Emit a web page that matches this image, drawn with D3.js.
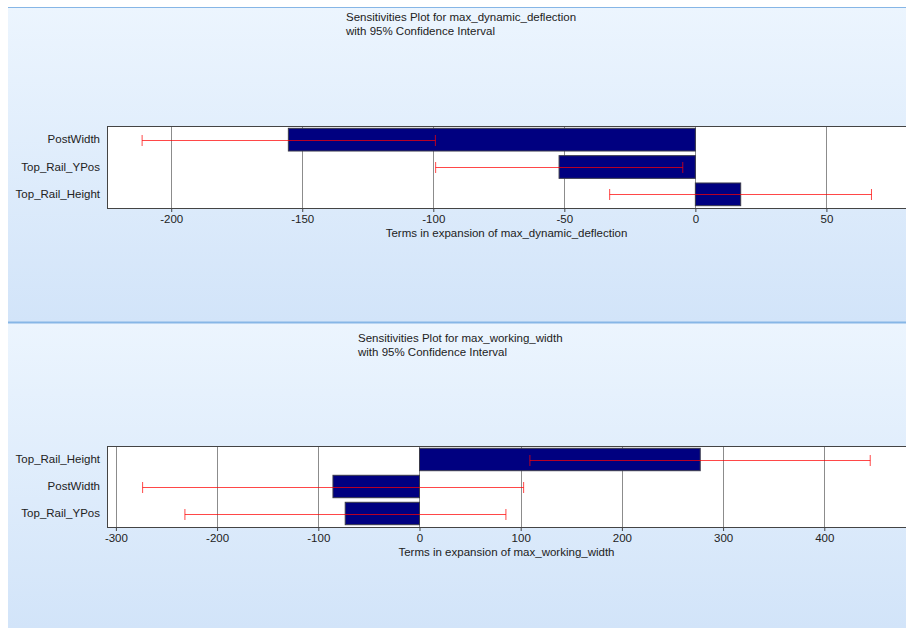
<!DOCTYPE html>
<html><head><meta charset="utf-8">
<script src="https://cdn.jsdelivr.net/npm/d3@7"></script>
<style>
html,body{margin:0;padding:0;background:#fff;}
svg{display:block;font-family:"Liberation Sans",Arial,sans-serif;}
</style></head>
<body>
<svg id="chart" width="906" height="628"></svg>
<script>
// ---- Data ----
const titles1 = ["Sensitivities Plot for max_dynamic_deflection", "with 95% Confidence Interval"];
const xLabel1 = "Terms in expansion of max_dynamic_deflection";
const cats1 = ["PostWidth", "Top_Rail_YPos", "Top_Rail_Height"];
const vals1 = [-155.3, -52.0, 17.3];
const lo1 = [-211.1, -99.1, -32.7];
const hi1 = [-99.2, -4.8, 67.2];
const ticks1 = [-200, -150, -100, -50, 0, 50];
const domain1 = [-224.5, 81.9];

const titles2 = ["Sensitivities Plot for max_working_width", "with 95% Confidence Interval"];
const xLabel2 = "Terms in expansion of max_working_width";
const cats2 = ["Top_Rail_Height", "PostWidth", "Top_Rail_YPos"];
const vals2 = [277.4, -85.5, -73.4];
const lo2 = [109.1, -273.6, -231.8];
const hi2 = [445.4, 102.9, 85.4];
const ticks2 = [-300, -200, -100, 0, 100, 200, 300, 400];
const domain2 = [-308.8, 484.7];

const FS = 11.5;
const svg = d3.select("#chart");
const defs = svg.append("defs");
const grad = defs.append("linearGradient").attr("id","bg").attr("x1",0).attr("y1",0).attr("x2",0).attr("y2",1);
grad.append("stop").attr("offset","0%").attr("stop-color","#ecf5fe");
grad.append("stop").attr("offset","100%").attr("stop-color","#d2e4f9");

function panel(cfg) {
  const g = svg.append("g");
  g.append("rect").attr("x", 8).attr("y", cfg.py).attr("width", 898).attr("height", cfg.ph).attr("fill", "url(#bg)");
  g.append("line").attr("x1", 8).attr("x2", 906).attr("y1", cfg.py + 0.5).attr("y2", cfg.py + 0.5)
    .attr("stroke", "#86b6e6").attr("stroke-width", cfg.lineW);

  cfg.titles.forEach((t, i) => {
    g.append("text").attr("x", cfg.tx).attr("y", cfg.ty + i * 14.5).attr("font-size", FS).attr("fill", "#222").text(t);
  });

  const left = 107, right = 910, top = cfg.top, bottom = cfg.bottom;
  const x = d3.scaleLinear().domain(cfg.domain).range([left, right]);
  const y = d3.scaleBand().domain(cfg.cats).range([top, bottom]).paddingInner(0.17).paddingOuter(0.085);

  g.append("rect").attr("x", left).attr("y", top).attr("width", right - left).attr("height", bottom - top).attr("fill", "#fff");

  g.append("g").selectAll("line").data(cfg.ticks).join("line")
    .attr("x1", d => Math.round(x(d)) + 0.5).attr("x2", d => Math.round(x(d)) + 0.5)
    .attr("y1", top).attr("y2", bottom)
    .attr("stroke", "#8c8c8c").attr("stroke-width", 1);

  g.append("g").selectAll("rect").data(cfg.vals).join("rect")
    .attr("x", d => x(Math.min(0, d)))
    .attr("width", d => Math.abs(x(d) - x(0)))
    .attr("y", (d, i) => y(cfg.cats[i]))
    .attr("height", y.bandwidth())
    .attr("fill", "#000080").attr("stroke", "#3a3a4a").attr("stroke-width", 1);

  const eb = g.append("g").attr("stroke", "#ff0000").attr("stroke-opacity", 0.72).attr("stroke-width", 1);
  cfg.cats.forEach((c, i) => {
    const cy = Math.round(y(c) + y.bandwidth() / 2) + 0.5;
    eb.append("line").attr("x1", x(cfg.lo[i])).attr("x2", x(cfg.hi[i])).attr("y1", cy).attr("y2", cy);
    [cfg.lo[i], cfg.hi[i]].forEach(v => {
      eb.append("line").attr("x1", x(v)).attr("x2", x(v)).attr("y1", cy - 5.5).attr("y2", cy + 5.5);
    });
  });

  g.append("rect").attr("x", left + 0.5).attr("y", top + 0.5).attr("width", right - left).attr("height", bottom - top)
    .attr("fill", "none").attr("stroke", "#444").attr("stroke-width", 1);

  const ax = g.append("g").attr("transform", `translate(0,${bottom})`)
    .call(d3.axisBottom(x).tickValues(cfg.ticks).tickSize(4).tickPadding(3).tickFormat(d => String(d)));
  ax.select(".domain").remove();
  ax.selectAll(".tick line").attr("stroke", "#444");
  ax.selectAll(".tick text").attr("font-size", FS).attr("fill", "#222")
    .attr("font-family", "'Liberation Sans',Arial,sans-serif");

  const ay = g.append("g").attr("transform", `translate(${left},0)`)
    .call(d3.axisLeft(y).tickSize(0).tickPadding(7));
  ay.select(".domain").remove();
  ay.selectAll(".tick text").attr("font-size", FS).attr("fill", "#222")
    .attr("font-family", "'Liberation Sans',Arial,sans-serif");

  g.append("text").attr("x", (left + 906) / 2).attr("y", bottom + 29).attr("text-anchor", "middle")
    .attr("font-size", FS).attr("fill", "#222").text(cfg.xLabel);
}

panel({py: 7, ph: 315, lineW: 1, titles: titles1, tx: 346, ty: 20.5, top: 126, bottom: 208,
       domain: domain1, cats: cats1, vals: vals1, lo: lo1, hi: hi1, ticks: ticks1, xLabel: xLabel1});
panel({py: 322, ph: 306, lineW: 2, titles: titles2, tx: 358, ty: 341.5, top: 446, bottom: 527,
       domain: domain2, cats: cats2, vals: vals2, lo: lo2, hi: hi2, ticks: ticks2, xLabel: xLabel2});
</script>
</body></html>
